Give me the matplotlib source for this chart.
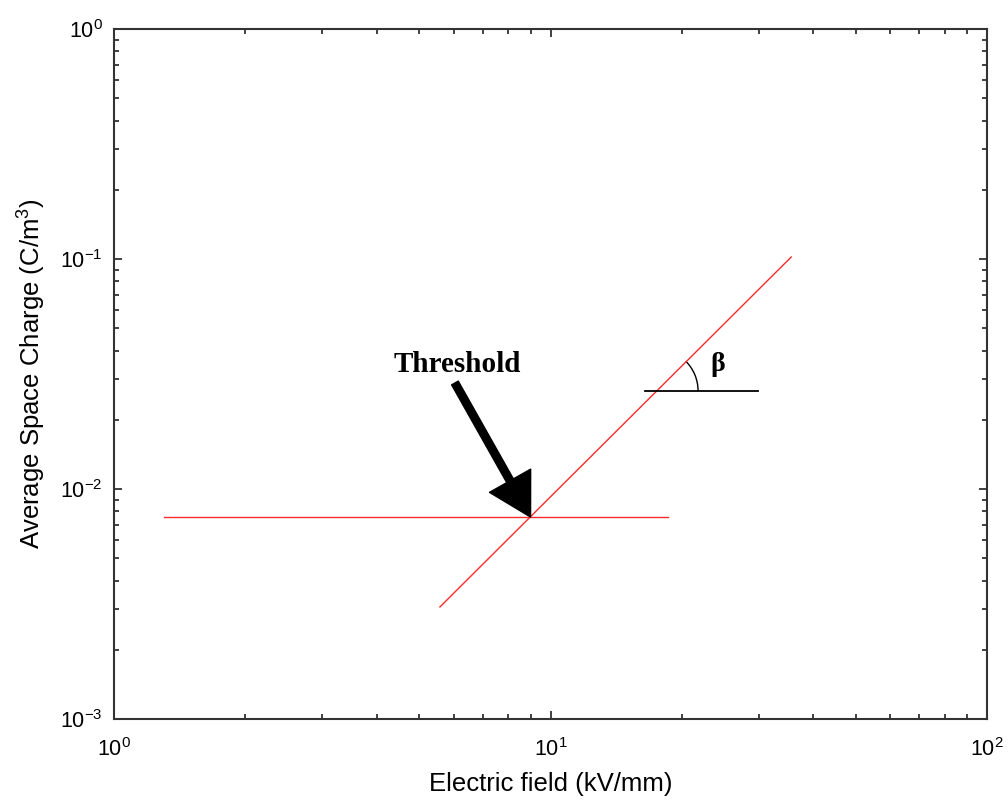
import matplotlib
matplotlib.use("Agg")
import matplotlib.pyplot as plt
import matplotlib.patches as mpatches
from matplotlib.transforms import ScaledTranslation

plt.rcParams['font.family'] = ['Liberation Sans', 'DejaVu Sans']
plt.rcParams['mathtext.fontset'] = 'custom'
plt.rcParams['mathtext.rm'] = 'Liberation Sans'
plt.rcParams['mathtext.it'] = 'Liberation Sans:italic'
plt.rcParams['mathtext.bf'] = 'Liberation Sans:bold'

# Data
flat_x = [1.3, 18.6]
flat_y = [7.55e-3, 7.55e-3]
rise_x = [5.58, 35.6]
rise_y = [3.07e-3, 0.102]
beta_x = [16.5, 29.9]
beta_y = [0.0267, 0.0267]
threshold_pt = (9.0, 7.55e-3)
arrow_tail = (6.04, 0.0289)
threshold_label_pos = (6.11, 0.0346)
beta_label_pos = (24.1, 0.0346)
arc_center = (17.45, 0.0267)

fig = plt.figure(figsize=(10.08, 8.01), dpi=100)
ax = fig.add_axes([0.1131, 0.1024, 0.8661, 0.8614])

ax.plot(flat_x, flat_y, color='#ff2a2a', lw=1.0)
ax.plot(rise_x, rise_y, color='#ff2a2a', lw=1.0)
ax.plot(beta_x, beta_y, color='black', lw=1.3)

ax.set_xscale('log')
ax.set_yscale('log')
ax.set_xlim(1, 100)
ax.set_ylim(1e-3, 1)

# arrow
arr = mpatches.FancyArrowPatch(arrow_tail, threshold_pt,
                               arrowstyle='simple,head_length=3.0,head_width=3.4,tail_width=0.55',
                               mutation_scale=10, color='black', shrinkA=0, shrinkB=0, zorder=5)
ax.add_patch(arr)

ax.text(*threshold_label_pos, 'Threshold', family='Liberation Serif', fontweight='bold',
        fontsize=21, ha='center', va='center')
ax.text(*beta_label_pos, 'β', family='Liberation Serif', fontweight='bold',
        fontsize=20, ha='center', va='center')

arc = mpatches.Arc((0, 0), 0.84, 0.84, theta1=0, theta2=45, color='black', lw=1.0,
                   transform=fig.dpi_scale_trans + ScaledTranslation(arc_center[0], arc_center[1], ax.transData))
ax.add_patch(arc)

for s in ax.spines.values():
    s.set_color('#333333')
    s.set_linewidth(1.5)

ax.tick_params(which='both', direction='in', top=True, right=True, colors='#333333',
               labelcolor='black', labelsize=15.5)
ax.tick_params(which='major', length=6, width=1.3)
ax.tick_params(which='minor', length=3.5, width=1.3)
ax.tick_params(axis='x', which='major', pad=14)
ax.tick_params(axis='y', which='major', pad=8)

ax.set_xlabel('Electric field (kV/mm)', fontsize=18.5, labelpad=8)
ax.set_ylabel('Average Space Charge (C/m$^3$)', fontsize=18.5, labelpad=9)

fig.savefig('out.png', dpi=100)
